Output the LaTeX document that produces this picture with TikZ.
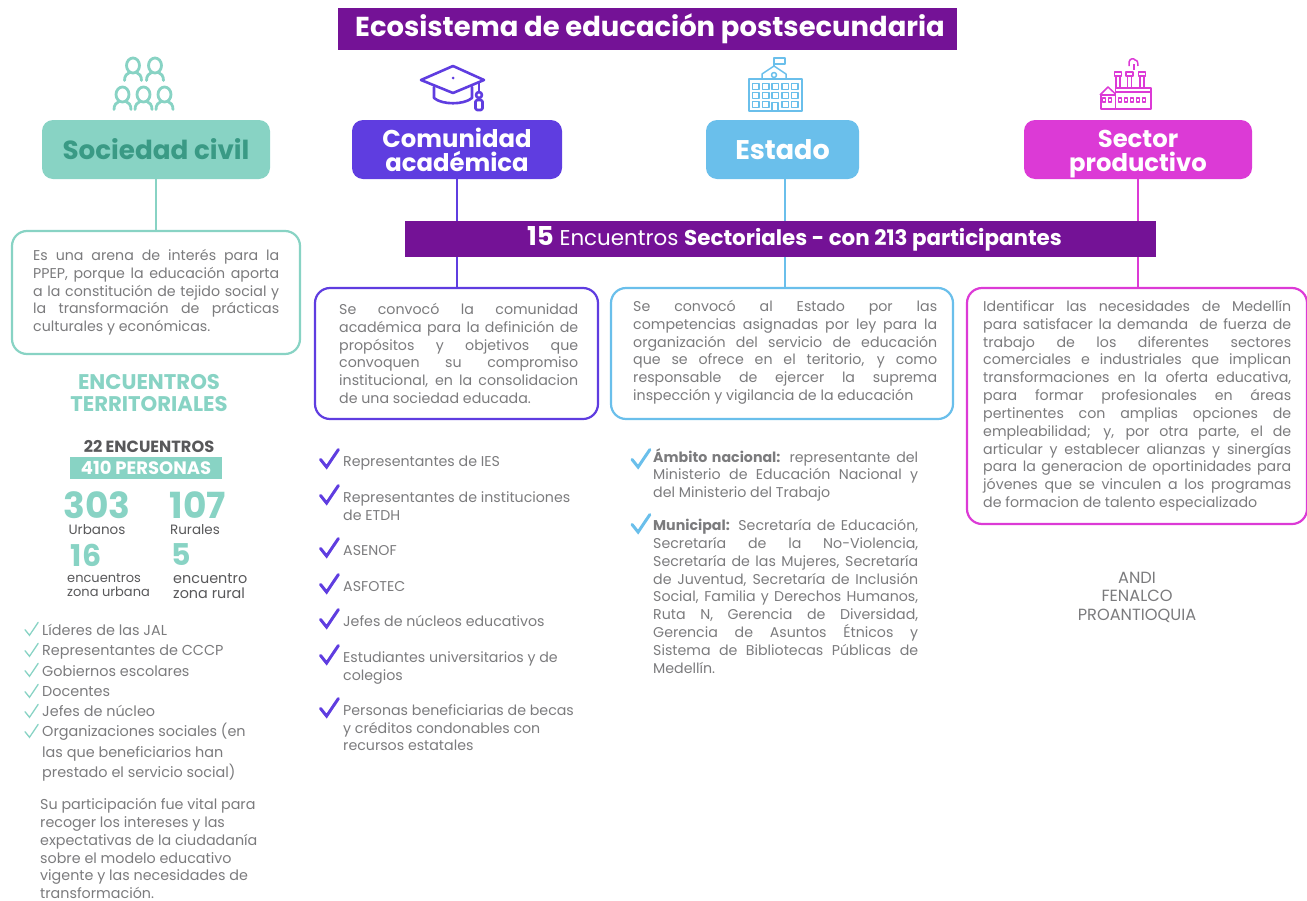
\documentclass[tikz,border=0pt]{standalone}
\usepackage{fontspec}
\setmainfont{Poppins}
\definecolor{titlep}{HTML}{741296}
\definecolor{viol}{HTML}{5F3DE0}
\definecolor{sky}{HTML}{6ABFEB}
\definecolor{teal1}{HTML}{88D3C4}
\definecolor{teal2}{HTML}{3A9A85}
\definecolor{mag}{HTML}{DC3AD6}
\definecolor{gtx}{HTML}{7B7B7D}
\definecolor{gdk}{HTML}{58585A}
\hbadness=10000 \hfuzz=30pt
\newcommand\jl[1]{\hbox to \hsize{\vrule height 11pt width 0pt depth 0pt #1}}
\newcommand\el[1]{\hbox{\vrule height 11pt width 0pt depth 0pt #1}}
\newcommand\blk[2]{\vtop{\hsize=#1\relax #2}}
\newcommand\chk[5]{\draw[#4,line width=#5,line cap=round,line join=miter] (#1,#2) ++(0,#3*0.55) -- ++(#3*0.32,#3*0.40) -- ++(#3*0.62,-#3*0.92);}
\tikzset{
 x=1pt,y=-1pt,
 headbox/.style={rounded corners=11pt,inner sep=0pt,align=center,font=\bfseries\fontsize{24.3}{24}\selectfont,text=white},
 outbox/.style={draw,fill=white,line width=2.2pt,rounded corners=15pt,inner sep=0pt},
 bodytxt/.style={anchor=north west,inner sep=0pt,text=gtx,font=\fontsize{14.2}{17.85}\selectfont},
 listtxt/.style={bodytxt,font=\fontsize{14.4}{20.3}\selectfont},
 small/.style={inner sep=0pt,text=gdk,font=\fontsize{13.5}{15}\selectfont},
 bignum/.style={inner sep=0pt,text=teal1,font=\bfseries\fontsize{36}{36}\selectfont},
 midnum/.style={inner sep=0pt,text=teal1,font=\bfseries\fontsize{30}{30}\selectfont},
 link/.style={line width=2pt},
 icon/.style={line width=1.5pt,line join=round},
}
\begin{document}
\begin{tikzpicture}
\useasboundingbox (0,0) rectangle (1307,900);
% title
\node[fill=titlep,minimum width=619pt,minimum height=42pt,inner sep=0pt,text=white,font=\bfseries\fontsize{27.4}{28}\selectfont] (title) at (647.5,29) {\hspace*{5pt}Ecosistema de educación postsecundaria};
% heads
\node[headbox,fill=teal1,text=teal2,minimum width=228pt,minimum height=59pt,font=\bfseries\fontsize{26.2}{24}\selectfont] (soc) at (156,149.5) {Sociedad civil};
\node[headbox,fill=viol,minimum width=210pt,minimum height=59pt] (com) at (457,149.5) {Comunidad\\académica};
\node[headbox,fill=sky,minimum width=153pt,minimum height=59pt,font=\bfseries\fontsize{27}{24}\selectfont] (est) at (782.5,149.5) {Estado};
\node[headbox,fill=mag,minimum width=228pt,minimum height=59pt] (sec) at (1138,149.5) {};
\node[headbox] (seclab) at (1138,154) {Sector\\productivo};
% boxes
\node[outbox,draw=teal1,minimum width=288pt,minimum height=123pt] (socbox) at (156,292.5) {};
\node[outbox,draw=viol,minimum width=283pt,minimum height=131pt] (combox) at (456.5,353.5) {};
\node[outbox,draw=sky,minimum width=342pt,minimum height=131pt] (estbox) at (782,353.5) {};
\node[outbox,draw=mag,minimum width=340pt,minimum height=236pt] (secbox) at (1137,406) {};
% connectors
\draw[link,teal1] (soc.south) -- (socbox.north);
\draw[link,viol] (com.south) -- (com.south |- combox.north);
\draw[link,sky] ([xshift=2.5pt]est.south) -- ([xshift=2.5pt]est.south |- estbox.north);
\draw[link,mag] (sec.south) -- (sec.south |- secbox.north);
% banner
\node[fill=titlep,minimum width=751pt,minimum height=36pt,inner sep=0pt,text=white,font=\fontsize{21.4}{24}\selectfont] (banner) at (780.5,239) {\hspace*{28pt}\textbf{\fontsize{26}{24}\selectfont 15} Encuentros \textbf{Sectoriales - con 213 participantes}};
% box text
\node[bodytxt] (soctxt) at (33,249) {\blk{246pt}{\jl{Es una arena de interés para la}\jl{PPEP, porque la educación aporta}\jl{a la constitución de tejido social y}\jl{la transformación de prácticas}\el{culturales y económicas.}}};
\node[bodytxt] (comtxt) at (339,303) {\blk{239pt}{\jl{Se convocó la comunidad}\jl{académica para la definición de}\jl{propósitos y objetivos que}\jl{convoquen su compromiso}\jl{institucional, en la consolidacion}\el{de una sociedad educada.}}};
\node[bodytxt] (esttxt) at (633,300) {\blk{304pt}{\jl{Se convocó al Estado por las}\jl{competencias asignadas por ley para la}\jl{organización del servicio de educación}\jl{que se ofrece en el teritorio, y como}\jl{responsable de ejercer la suprema}\el{inspección y vigilancia de la educación}}};
\node[bodytxt] (sectxt) at (983,300) {\blk{308pt}{\jl{Identificar las necesidades de Medellín}\jl{para satisfacer la demanda\ \ de fuerza de}\jl{trabajo de los diferentes sectores}\jl{comerciales e industriales que implican}\jl{transformaciones en la oferta educativa,}\jl{para formar profesionales en áreas}\jl{pertinentes con amplias opciones de}\jl{empleabilidad; y, por otra parte, el de}\jl{articular y establecer alianzas y sinergías}\jl{para la generacion de oportinidades para}\jl{jóvenes que se vinculen a los programas}\el{de formacion de talento especializado}}};
% left stats
\node[inner sep=0pt,align=center,text=teal1,font=\bfseries\fontsize{21.2}{22}\selectfont] (enc) at (149,393) {ENCUENTROS\\TERRITORIALES};
\node[inner sep=0pt,text=gdk,font=\bfseries\fontsize{16.2}{15}\selectfont] (e22) at (149,447) {22 ENCUENTROS};
\node[fill=teal1,minimum width=152pt,minimum height=22pt,inner sep=0pt,text=white,font=\bfseries\fontsize{18}{17}\selectfont] (p410) at (146,468) {410 PERSONAS};
\node[bignum] (n303) at (97,505) {303};
\node[bignum] (n107) at (198,505) {107};
\node[small] (urb) at (97,529.5) {Urbanos};
\node[small] (rur) at (195,529.5) {Rurales};
\node[midnum] (n16) at (86,555) {16};
\node[midnum] (n5) at (181,555) {5};
\node[small,align=left,anchor=north west,font=\fontsize{13}{14.5}\selectfont] (zu) at (67,573) {encuentros\\zona urbana};
\node[small,align=left,anchor=north west,font=\fontsize{14.4}{15}\selectfont] (zr) at (173,573) {encuentro\\zona rural};
% left list
\node[listtxt] (soclist) at (42,624) {\blk{230pt}{\el{Líderes de las JAL}\el{Representantes de CCCP}\el{Gobiernos escolares}\el{Docentes}\el{Jefes de núcleo}\el{Organizaciones sociales (en}\el{las que beneficiarios han}\el{prestado el servicio social)}}};
\node[bodytxt,font=\fontsize{14.3}{17.85}\selectfont] (socpar) at (40,798) {\blk{230pt}{\el{Su participación fue vital para}\el{recoger los intereses y las}\el{expectativas de la ciudadanía}\el{sobre el modelo educativo}\el{vigente y las necesidades de}\el{transformación.}}};
\foreach \yy in {622,643,663,684,704,724} {\chk{25}{\yy}{14}{teal1}{1.3pt}}
% comunidad list
\foreach \yy/\tt/\nm in {455/{\el{Representantes de IES}}/c1,491/{\el{Representantes de instituciones}\el{de ETDH}}/c2,544/{\el{ASENOF}}/c3,580/{\el{ASFOTEC}}/c4,615/{\el{Jefes de núcleos educativos}}/c5,651/{\el{Estudiantes universitarios y de}\el{colegios}}/c6,704/{\el{Personas beneficiarias de becas}\el{y créditos condonables con}\el{recursos estatales}}/c7} {
 \node[bodytxt] (\nm) at (343,\yy) {\blk{240pt}{\tt}};
}
\foreach \yy in {449,485,538,574,609,645,698} {\chk{320.5}{\yy}{19}{viol}{3pt}}
% estado list
\node[bodytxt] (en) at (653,448) {\blk{265pt}{\jl{\textbf{Ámbito nacional:} representante del}\jl{Ministerio de Educación Nacional y}\el{del Ministerio del Trabajo}}};
\node[bodytxt] (em) at (653,519) {\blk{265pt}{\jl{\textbf{Municipal:} Secretaría de Educación,}\jl{Secretaría de la No-Violencia,}\jl{Secretaría de las Mujeres, Secretaría}\jl{de Juventud, Secretaría de Inclusión}\jl{Social, Familia y Derechos Humanos,}\jl{Ruta N, Gerencia de Diversidad,}\jl{Gerencia de Asuntos Étnicos y}\jl{Sistema de Bibliotecas Públicas de}\el{Medellín.}}};
\chk{632}{449}{19}{sky}{3pt}
\chk{632}{514}{19}{sky}{3pt}
% sector list
\node[inner sep=0pt,align=center,text=gtx,font=\fontsize{16.2}{18.5}\selectfont] (andi) at (1137,597) {ANDI\\FENALCO\\PROANTIOQUIA};
% people icon
\foreach \px/\py in {133/65.5,155/65.5,122.5/94.5,143.5/94.5,164.5/94.5} {
 \draw[teal1,line width=2.8pt] (\px,\py) ellipse[x radius=6.5pt,y radius=7.5pt];
 \draw[teal1,line width=2.8pt,line cap=round] (\px-8.5,\py+15) .. controls (\px-8.5,\py+10) and (\px-6,\py+8) .. (\px-3.5,\py+7);
 \draw[teal1,line width=2.8pt,line cap=round] (\px+8.5,\py+15) .. controls (\px+8.5,\py+10) and (\px+6,\py+8) .. (\px+3.5,\py+7);
}
% cap icon
\begin{scope}[viol,line width=2.6pt,line join=round,line cap=round]
\draw (453,66) -- (484,80) -- (453,93) -- (421,80) -- cycle;
\draw (434,87) -- (434,98) .. controls (442,105) and (464,105) .. (472,98) -- (472,87);
\draw (479,83) -- (479,92);
\draw (479,95) circle[radius=3pt];
\draw[rounded corners=1.5pt] (475.5,100) rectangle (482.5,110);
\fill (453,78) circle[radius=1.5pt];
\end{scope}
% building icon
\begin{scope}[sky,icon]
\draw (749,79) rectangle (802,111);
\draw (762,79) -- (762,74) -- (774,66) -- (786,74) -- (786,79);
\draw (774,66) -- (774,58) -- (785,58) -- (785,64) -- (774,64);
\draw (774,75) circle[radius=2.5pt];
\foreach \i in {0,1,2,3,4} {\foreach \j in {0,1,2} {
 \ifnum\i=2 \ifnum\j=2 \else \draw (752.5+\i*9.8,83.5+\j*9) rectangle ++(6.5,6); \fi \else \draw (752.5+\i*9.8,83.5+\j*9) rectangle ++(6.5,6); \fi
}}
\draw (772,111) -- (772,102.5) -- (778,102.5) -- (778,111);
\end{scope}
% factory icon
\begin{scope}[mag,icon]
\draw (1101,109) rectangle (1115.5,95);
\draw (1100,95) -- (1108,87) -- (1115.5,94);
\draw (1115.5,109) rectangle (1151,88);
\draw (1115.5,92) -- (1151,92);
\foreach \cx in {1118,1129.5,1142} {
 \draw (\cx-3.5,72) rectangle (\cx+3.5,76);
 \draw (\cx-2,76) -- (\cx-2,88);
 \draw (\cx+2,76) -- (\cx+2,88);
}
\foreach \cx in {1104,1110,1120,1126,1132,1138,1144} {\draw (\cx-1.5,98) rectangle (\cx+1.5,102);}
\draw (1129,66) -- (1129,62) .. controls (1130,58) and (1134,58) .. (1135,60) .. controls (1138,60) and (1138,64) .. (1138,66);
\draw (1134,64) -- (1134,70);
\end{scope}
\end{tikzpicture}
\end{document}
